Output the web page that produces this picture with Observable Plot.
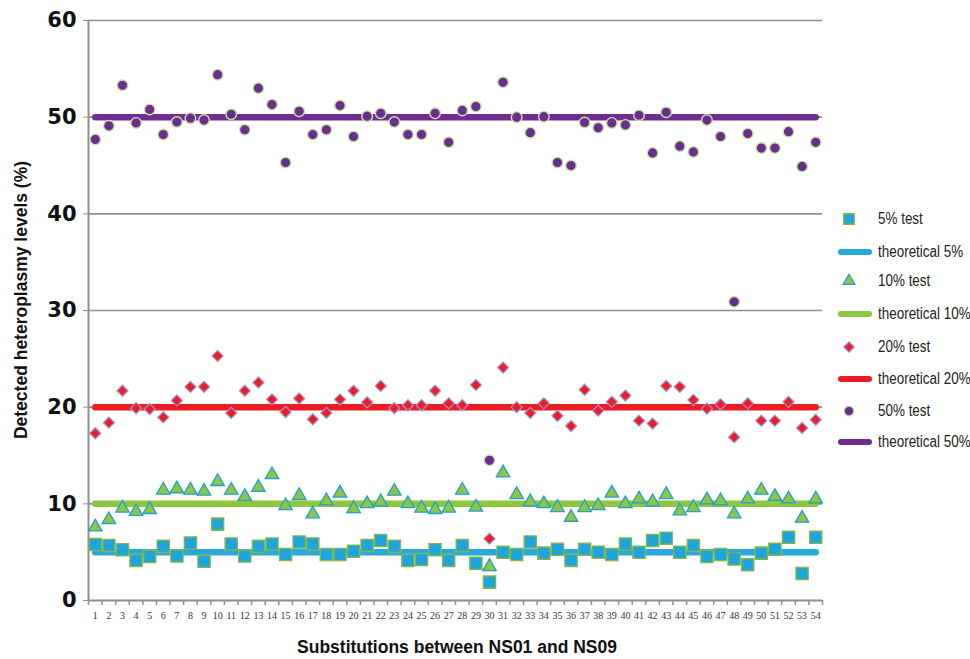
<!DOCTYPE html>
<html>
<head>
<meta charset="utf-8">
<script src="https://cdn.jsdelivr.net/npm/d3@7"></script>
<script src="https://cdn.jsdelivr.net/npm/@observablehq/plot@0.6"></script>
<style>
  html, body { margin: 0; padding: 0; background: #fff; }
  #wrap { position: relative; width: 970px; height: 659px; overflow: hidden; }
  #wrap > svg { position: absolute; left: 0; top: 0; }
  .ytitle { position: absolute; left: 21px; top: 300px; transform: translate(-50%, -50%) rotate(-90deg);
    white-space: nowrap; font: bold 17.5px "Liberation Sans", Arial, sans-serif; color: #111; }
  .xtitle { position: absolute; left: 457px; top: 647px; transform: translate(-50%, -50%);
    white-space: nowrap; font: bold 17.5px "Liberation Sans", Arial, sans-serif; color: #111; }
  #wrap .leg { position: absolute; left: 832px; height: 24px; display: flex; align-items: center; transform: translateY(-50%); }
  #wrap .leg svg { position: static; display: block; flex: none; }
  #wrap .leg span { display: inline-block; margin-left: 6px; font: 16px "Liberation Sans", Arial, sans-serif;
    transform: scaleX(0.84); transform-origin: left center; color: #222; white-space: nowrap; }
</style>
</head>
<body>
<div id="wrap"></div>
<script>
// ---------- data ----------
const categories = [1,2,3,4,5,6,7,8,9,10,11,12,13,14,15,16,17,18,19,20,21,22,23,24,25,26,27,
  28,29,30,31,32,33,34,35,36,37,38,39,40,41,42,43,44,45,46,47,48,49,50,51,52,53,54];

const test5 = [5.8,5.7,5.25,4.15,4.55,5.6,4.6,5.95,4.05,7.9,
  5.85,4.6,5.6,5.85,4.75,6.05,5.85,4.75,4.75,5.1,
  5.7,6.2,5.6,4.15,4.25,5.25,4.15,5.7,3.85,1.9,
  5.0,4.75,6.05,4.9,5.3,4.15,5.3,5.0,4.75,5.85,
  5.0,6.2,6.45,5.0,5.7,4.55,4.75,4.3,3.7,4.9,
  5.3,6.55,2.8,6.55];

const test10 = [7.6,8.35,9.55,9.2,9.4,11.4,11.55,11.4,11.3,12.3,
  11.4,10.75,11.7,13.0,9.8,10.85,8.95,10.3,11.1,9.5,
  10.0,10.2,11.3,10.0,9.55,9.4,9.55,11.4,9.65,3.5,
  13.2,10.95,10.2,10.0,9.6,8.6,9.6,9.8,11.1,10.0,
  10.5,10.2,10.95,9.25,9.6,10.4,10.3,8.95,10.5,11.4,
  10.75,10.5,8.5,10.5];

const test20 = [17.3,18.4,21.7,19.9,19.8,18.95,20.7,22.1,22.1,25.3,
  19.4,21.7,22.55,20.8,19.5,20.9,18.75,19.4,20.8,21.7,
  20.5,22.2,19.9,20.2,20.2,21.7,20.4,20.2,22.3,6.4,
  24.1,20.0,19.4,20.4,19.1,18.05,21.8,19.65,20.55,21.2,
  18.6,18.3,22.2,22.1,20.75,19.85,20.3,16.9,20.4,18.6,
  18.6,20.55,17.85,18.7];

const test50 = [47.7,49.1,53.3,49.4,50.8,48.2,49.5,49.9,49.7,54.4,
  50.3,48.7,53.0,51.3,45.3,50.6,48.2,48.7,51.2,48.0,
  50.1,50.4,49.5,48.2,48.2,50.4,47.4,50.7,51.1,14.5,
  53.6,50.0,48.4,50.05,45.3,45.0,49.45,48.9,49.4,49.2,
  50.2,46.3,50.5,47.0,46.4,49.7,48.0,30.9,48.3,46.8,
  46.8,48.5,44.9,47.4];

const theoretical = [5, 10, 20, 50];
const yTicks = [0, 10, 20, 30, 40, 50, 60];
const seriesNames = ["5%", "10%", "20%", "50%"];

// ---------- styles ----------
const lineColors = ["#29a8e0", "#8dc63f", "#ec1c24", "#6f2c91"];
const dotStyles = [
  {symbol: "square",   fill: "#1ea5de", stroke: "#86b83e", r: 6.9, sw: 1.3},
  {symbol: "triangle", fill: "#8dc63f", stroke: "#1f9fd6", r: 5.0, sw: 1.3},
  {symbol: "diamond2", fill: "#ee1d23", stroke: "#9a96d8", r: 5.0, sw: 1.2},
  {symbol: "circle",   fill: "#6b2e8f", stroke: "#c8e2a8", r: 5.3, sw: 1.4}
];
const tests = [test5, test10, test20, test50];

const xDomain = [0.5, categories.length + 0.5];
const boundaries = categories.map(c => c + 0.5).concat([xDomain[0]]);

const rows = (arr) => categories.map((c, i) => ({x: c, y: arr[i]}));

const marks = [
  Plot.ruleY(yTicks.filter(d => d > 0), {stroke: "#8f8f8f", strokeWidth: 1.6}),
  Plot.axisY({ticks: yTicks, tickSize: 5, tickPadding: 7, label: null, stroke: "#8f8f8f",
    fontSize: 21, fontWeight: "bold", fontFamily: "DejaVu Sans, Verdana, sans-serif", fill: "#111"}),
  Plot.axisX({ticks: categories, tickSize: 0, tickPadding: 11, label: null, tickFormat: d => String(d),
    fontSize: 10, fontFamily: "Liberation Serif, Times New Roman, serif", fill: "#333"}),
  Plot.axisX({ticks: boundaries, tickSize: 5, tickFormat: () => "", label: null, stroke: "#8f8f8f", strokeWidth: 1.5}),
  Plot.ruleX([xDomain[0]], {stroke: "#8f8f8f", strokeWidth: 2}),
  Plot.ruleY([yTicks[0]], {stroke: "#8f8f8f", strokeWidth: 2})
];

theoretical.forEach((t, k) => {
  marks.push(Plot.lineY(categories, {x: d => d, y: () => t, stroke: lineColors[k], strokeWidth: 6.5, strokeLinecap: "round"}));
});
tests.forEach((arr, k) => {
  const s = dotStyles[k];
  marks.push(Plot.dot(rows(arr), {x: "x", y: "y", symbol: () => s.symbol, fill: s.fill, stroke: s.stroke,
    strokeWidth: s.sw, r: s.r}));
});

const chart = Plot.plot({
  width: 970, height: 659,
  marginLeft: 88, marginRight: 148, marginTop: 20, marginBottom: 59,
  x: {type: "linear", domain: xDomain},
  y: {domain: [yTicks[0], yTicks[yTicks.length - 1]]},
  symbol: {type: "identity"},
  style: {background: "#fff", overflow: "visible"},
  marks
});

const wrap = document.getElementById("wrap");
wrap.appendChild(chart);

const yt = document.createElement("div");
yt.className = "ytitle"; yt.textContent = "Detected heteroplasmy levels (%)";
wrap.appendChild(yt);
const xt = document.createElement("div");
xt.className = "xtitle"; xt.textContent = "Substitutions between NS01 and NS09";
wrap.appendChild(xt);

// ---------- legend ----------
const legendY = [219, 252, 281, 314, 347, 379, 411, 442];
const symPath = {
  square: d3.symbol(d3.symbolSquare, 110)(),
  triangle: d3.symbol(d3.symbolTriangle, 60)(),
  diamond2: d3.symbol(d3.symbolDiamond2, 70)(),
  circle: d3.symbol(d3.symbolCircle, 75)()
};
seriesNames.forEach((name, k) => {
  const s = dotStyles[k];
  const a = document.createElement("div");
  a.className = "leg"; a.style.top = legendY[2 * k] + "px";
  a.innerHTML = `<svg width="40" height="20"><path transform="translate(17,10)" d="${symPath[s.symbol]}" fill="${s.fill}" stroke="${s.stroke}" stroke-width="${s.sw}"/></svg><span>${name} test</span>`;
  wrap.appendChild(a);
  const b = document.createElement("div");
  b.className = "leg"; b.style.top = legendY[2 * k + 1] + "px";
  b.innerHTML = `<svg width="40" height="20"><line x1="9" x2="37" y1="10" y2="10" stroke="${lineColors[k]}" stroke-width="6" stroke-linecap="round"/></svg><span>theoretical ${name}</span>`;
  wrap.appendChild(b);
});
</script>
</body>
</html>
